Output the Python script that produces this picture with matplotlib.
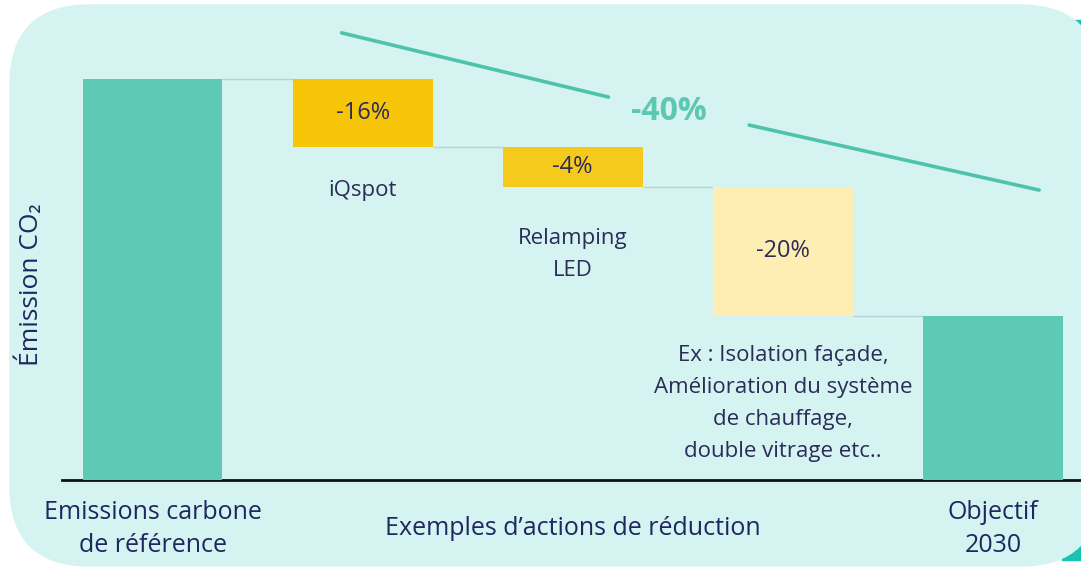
import matplotlib
matplotlib.use("Agg")
from matplotlib import pyplot as plt, patches

# waterfall data (drawn heights, schematic units)
reference = 100
step_heights = [17, 10, 32]
step_labels = ["-16%", "-4%", "-20%"]
step_names = ["iQspot", "Relamping\nLED",
              "Ex : Isolation façade,\nAmélioration du système\nde chauffage,\ndouble vitrage etc.."]
final = reference - sum(step_heights)
tick_pos = [0, 2, 4]
tick_labels = ["Emissions carbone\nde référence", "Exemples d\u2019actions de réduction", "Objectif\n2030"]
total_label = "-40%"

plt.rcParams["font.family"] = ["Open Sans", "DejaVu Sans"]

teal = "#5ECAB6"
navy = "#1F2760"
yellow = ["#F7C508", "#F6CA1C", "#FEEEB4"]
name_offsets = [-24, -29, -21]

fig = plt.figure(figsize=(10.81, 5.69), dpi=100)
fig.patch.set_facecolor("white")

# background card (pixel coords)
bg = fig.add_axes([0, 0, 1, 1])
bg.set_xlim(0, 1081)
bg.set_ylim(569, 0)
bg.axis("off")
bg.add_patch(patches.Rectangle((1062, 20), 60, 540, color="#19C2B2", zorder=0))
bg.add_patch(patches.FancyBboxPatch((10 + 80, 5 + 80), 1100 - 10 - 160, 566 - 5 - 160,
                                    boxstyle="round,pad=80", color="#D5F3F1", zorder=1))

ax = fig.add_axes([0.0575, 0.1564, 0.9485, 0.8105])
ax.set_facecolor("none")
ax.set_xlim(-0.43, 4.45)
ax.set_ylim(0, 115)

w = 0.666
ax.bar(0, reference, width=w, color=teal, zorder=3)

running = reference
prev_right = 0 + w / 2
for i, h in enumerate(step_heights):
    x = i + 1
    ax.hlines(running, prev_right, x - w / 2, color="#B8D2D6", lw=1, zorder=2)
    ax.bar(x, h, bottom=running - h, width=w, color=yellow[i], zorder=3)
    ax.text(x, running - h / 2, step_labels[i], ha="center", va="center",
            fontsize=17, color="#2B2C58", zorder=4)
    ax.annotate(step_names[i], (x, running - h), xytext=(0, name_offsets[i]),
                textcoords="offset points", ha="center", va="top", fontsize=16,
                color="#2B2C58", linespacing=1.7)
    running -= h
    prev_right = x + w / 2

ax.hlines(running, prev_right, 4 - w / 2, color="#B8D2D6", lw=1, zorder=2)
ax.bar(4, final, width=w, color=teal, zorder=3)

# overall trend
ax.plot([0.90, 2.17], [111.5, 95.5], color="#4DC3AC", lw=2.6, solid_capstyle="round", zorder=3)
ax.plot([2.84, 4.22], [88.5, 72.3], color="#4DC3AC", lw=2.6, solid_capstyle="round", zorder=3)
ax.text(2.46, 91.8, total_label, ha="center", va="center", fontsize=23,
        fontweight="bold", color="#5DC8B2")

for s in ["top", "right", "left"]:
    ax.spines[s].set_visible(False)
ax.spines["bottom"].set_linewidth(2)
ax.spines["bottom"].set_color("#111111")
ax.set_yticks([])
ax.set_xticks(tick_pos)
ax.set_xticklabels(tick_labels, fontsize=18, color=navy, linespacing=1.42)
ax.tick_params(axis="x", length=0, pad=35)
for lbl in ax.get_xticklabels():
    lbl.set_verticalalignment("center")

fig.text(30 / 1081, 1 - 285 / 569, "Émission CO\u2082", rotation=90, ha="center", va="center",
         fontsize=19, color=navy)

fig.savefig("out.png", dpi=100)
